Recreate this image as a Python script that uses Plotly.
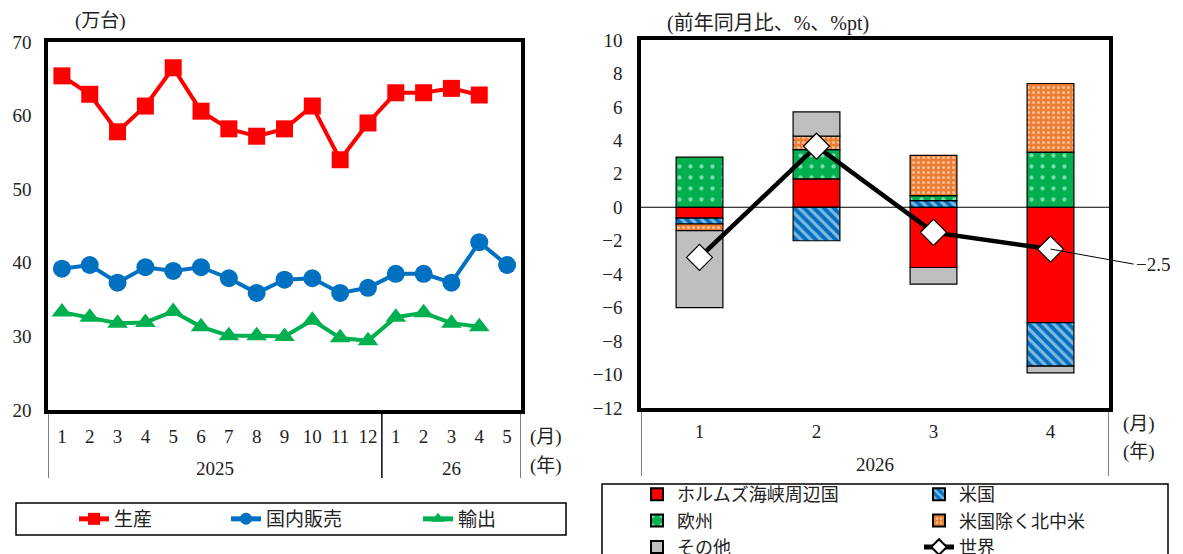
import plotly.graph_objects as go

# ---- left panel: monthly volumes (10k units) ----
years_left = ["2025"] * 12 + ["26"] * 5
months_left = [str(m) for m in range(1, 13)] + [str(m) for m in range(1, 6)]
production = [65.4, 62.9, 57.8, 61.3, 66.5, 60.6, 58.2, 57.2, 58.2, 61.3, 54.0, 59.0,
              63.1, 63.1, 63.7, 62.8, None]
domestic_sales = [39.2, 39.7, 37.3, 39.4, 38.9, 39.4, 37.9, 35.9, 37.7, 37.9, 35.9, 36.6,
                  38.5, 38.5, 37.3, 42.8, 39.7]
exports = [33.3, 32.6, 31.8, 31.9, 33.4, 31.3, 30.1, 30.1, 30.0, 32.2, 29.8, 29.4,
           32.6, 33.2, 31.8, 31.3, None]

# ---- right panel: export growth contributions (% y/y, %pt) ----
years_right = ["2026"] * 4
months_right = ["1", "2", "3", "4"]
hormuz = [-0.65, 1.7, -3.6, -6.9]
usa = [-0.35, -2.0, 0.4, -2.6]
europe = [3.0, 1.75, 0.3, 3.3]
north_central_america = [-0.4, 0.8, 2.4, 4.1]
others = [-4.6, 1.45, -1.0, -0.4]
world = [-3.0, 3.65, -1.5, -2.5]

FONT = "Liberation Serif, Noto Sans CJK JP"
TXT = "#222"
W, H = 1183, 554


def px_x(v):
    return v / W


def px_y(v):
    return (H - v) / H


def year_groups(years):
    """Consecutive runs of the same year label -> (label, first index, last index)."""
    groups = []
    start = 0
    for i in range(1, len(years) + 1):
        if i == len(years) or years[i] != years[start]:
            groups.append((years[start], start, i - 1))
            start = i
    return groups


idx_left = list(range(len(months_left)))
idx_right = list(range(len(months_right)))

fig = go.Figure()

line_specs = [
    ("生産", production, "#FF0000", "square", 17, "legend"),
    ("国内販売", domestic_sales, "#0070C0", "circle", 18, "legend4"),
    ("輸出", exports, "#00B050", "triangle-up", 18, "legend5"),
]
for name, vals, color, symbol, size, lg in line_specs:
    fig.add_trace(go.Scatter(
        x=idx_left, y=vals, name=name, mode="lines+markers",
        line=dict(color=color, width=4),
        marker=dict(symbol=symbol, size=size, color=color),
        xaxis="x", yaxis="y", legend=lg, showlegend=True))

bar_specs = [
    ("ホルムズ海峡周辺国", hormuz, dict(color="#FF0000"), "legend2"),
    ("米国", usa, dict(color="#0070C0",
                      pattern=dict(shape="\\", bgcolor="#0070C0", fgcolor="white",
                                   size=7, solidity=0.45, fillmode="overlay")), "legend3"),
    ("欧州", europe, dict(color="#00B050",
                         pattern=dict(shape=".", bgcolor="#00B050", fgcolor="white",
                                      size=11, solidity=0.12, fillmode="overlay")), "legend2"),
    ("米国除く北中米", north_central_america,
     dict(color="#ED7D31",
          pattern=dict(shape=".", bgcolor="#ED7D31", fgcolor="white",
                       size=5, solidity=0.3, fillmode="overlay")), "legend3"),
    ("その他", others, dict(color="#BFBFBF"), "legend2"),
]
for name, vals, mk, lg in bar_specs:
    mk = dict(mk)
    mk["line"] = dict(color="black", width=1.2)
    fig.add_trace(go.Bar(x=idx_right, y=vals, name=name, marker=mk, width=0.4,
                         xaxis="x2", yaxis="y2", legend=lg))

fig.add_trace(go.Scatter(
    x=idx_right, y=world, name="世界", mode="lines+markers",
    line=dict(color="black", width=4.5),
    marker=dict(symbol="diamond", size=20, color="white",
                line=dict(color="black", width=1.2)),
    xaxis="x2", yaxis="y2", legend="legend3"))

axis_common = dict(showgrid=False, showline=True, linecolor="black", linewidth=3.5,
                   mirror=True, ticks="", zeroline=False,
                   tickfont=dict(family=FONT, size=19, color=TXT))

legend_common = dict(bgcolor="rgba(0,0,0,0)", borderwidth=0, tracegroupgap=0,
                     itemsizing="constant", visible=True)
left_legend_font = dict(family=FONT, size=19, color=TXT)
right_legend_font = dict(family=FONT, size=18, color=TXT)

fig.update_layout(
    width=W, height=H, margin=dict(l=0, r=0, t=0, b=0, autoexpand=False),
    paper_bgcolor="white", plot_bgcolor="white",
    font=dict(family=FONT, size=19, color=TXT),
    showlegend=True,
    barmode="relative",
    xaxis=dict(domain=[px_x(48), px_x(521)], anchor="y", range=[-0.5, len(idx_left) - 0.5],
               tickmode="array", tickvals=idx_left, ticktext=months_left,
               ticklabelstandoff=6, automargin=False, **axis_common),
    yaxis=dict(domain=[px_y(410), px_y(42)], anchor="x", range=[20, 70], dtick=10,
               ticklabelstandoff=9, automargin=False, **axis_common),
    xaxis2=dict(domain=[px_x(641), px_x(1109)], anchor="y2",
                range=[-0.5, len(idx_right) - 0.5],
                tickmode="array", tickvals=idx_right, ticktext=months_right,
                ticklabelstandoff=3, automargin=False, **axis_common),
    yaxis2=dict(domain=[px_y(408), px_y(40)], anchor="x2", range=[-12, 10], dtick=2,
                ticklabelstandoff=11, automargin=False, **axis_common),
    legend=dict(orientation="h", x=px_x(74), xanchor="left", y=px_y(519),
                yanchor="middle", font=left_legend_font, **legend_common),
    legend4=dict(orientation="h", x=px_x(226), xanchor="left", y=px_y(519),
                 yanchor="middle", font=left_legend_font, **legend_common),
    legend5=dict(orientation="h", x=px_x(418), xanchor="left", y=px_y(519),
                 yanchor="middle", font=left_legend_font, **legend_common),
    legend2=dict(orientation="v", x=px_x(637), xanchor="left", y=px_y(476),
                 yanchor="top", font=right_legend_font, **legend_common),
    legend3=dict(orientation="v", x=px_x(919), xanchor="left", y=px_y(476),
                 yanchor="top", font=right_legend_font, **legend_common),
)

# zero line of the contribution chart
fig.add_shape(type="line", xref="x2 domain", yref="y2", x0=0, x1=1, y0=0, y1=0,
              line=dict(color="black", width=1.2), layer="above")

# year groups under the month labels, with separators
for xa, years, top_px, bottom_px, year_px in [
        ("x", years_left, 410, 478, 468), ("x2", years_right, 408, 476, 465)]:
    for label, first, last in year_groups(years):
        fig.add_annotation(text=label, xref=xa, yref="paper", x=(first + last) / 2,
                           y=px_y(year_px), showarrow=False,
                           xanchor="center", yanchor="middle",
                           font=dict(family=FONT, size=19, color=TXT))
        for edge in (first - 0.5, last + 0.5):
            fig.add_shape(type="line", xref=xa, yref="paper", x0=edge, x1=edge,
                          y0=px_y(top_px), y1=px_y(bottom_px),
                          line=dict(color="black", width=1))

# legend frames
fig.add_shape(type="rect", xref="paper", yref="paper",
              x0=px_x(16), x1=px_x(566), y0=px_y(535), y1=px_y(503),
              line=dict(color="black", width=1.5))
fig.add_shape(type="rect", xref="paper", yref="paper",
              x0=px_x(602), x1=px_x(1168), y0=px_y(575), y1=px_y(484),
              line=dict(color="black", width=1.5))

notes = [
    ("(万台)", 100, 21, 19),
    ("(前年同月比、%、%pt)", 768, 24, 20),
    ("(月)", 546, 437, 19),
    ("(年)", 546, 466, 19),
    ("(月)", 1139, 424, 19),
    ("(年)", 1139, 452, 19),
]
for text, x, y, size in notes:
    fig.add_annotation(text=text, xref="paper", yref="paper", x=px_x(x), y=px_y(y),
                       showarrow=False, xanchor="center", yanchor="middle",
                       font=dict(family=FONT, size=size, color=TXT))

# value callout for the latest world figure
fig.add_annotation(x=idx_right[-1], y=world[-1], xref="x2", yref="y2",
                   text=f"−{abs(world[-1])}", showarrow=True, arrowhead=0, arrowwidth=1,
                   arrowcolor="black", ax=83, ay=15, xanchor="left", standoff=0,
                   font=dict(family=FONT, size=19, color=TXT))

fig.write_html("out.html")
